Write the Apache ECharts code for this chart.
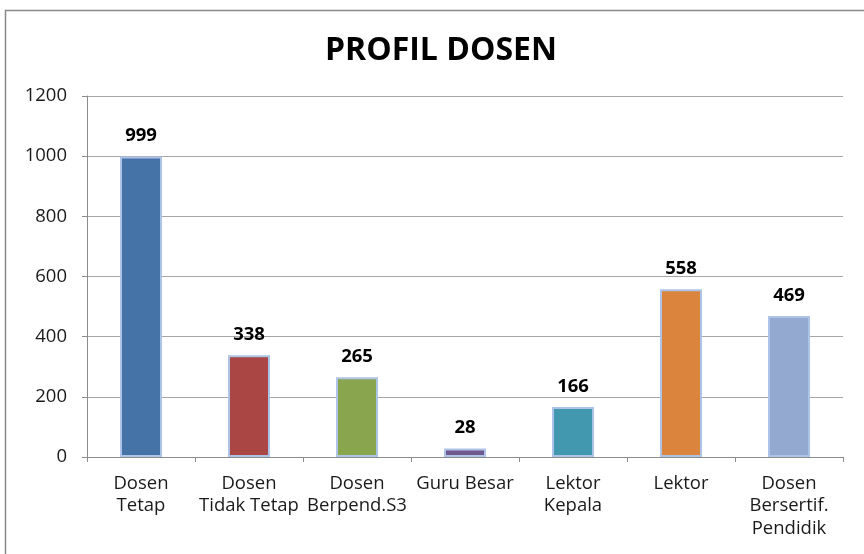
<!DOCTYPE html>
<html>
<head>
<meta charset="utf-8">
<script src="https://cdn.jsdelivr.net/npm/echarts@6/dist/echarts.min.js"></script>
<style>
html,body{margin:0;padding:0;background:#fff;}
#chart{width:864px;height:554px;}
</style>
</head>
<body>
<div id="chart"></div>
<script>
var categories = ["Dosen\nTetap", "Dosen\nTidak Tetap", "Dosen\nBerpend.S3", "Guru Besar", "Lektor\nKepala", "Lektor", "Dosen\nBersertif.\nPendidik"];
var values = [999, 338, 265, 28, 166, 558, 469];
var barColors = ["#4572A7", "#AA4643", "#89A54E", "#71588F", "#4198AF", "#DB843D", "#93A9CF"];
var yTicks = [0, 200, 400, 600, 800, 1000, 1200];

var FONT = "'Open Sans', 'Noto Sans', sans-serif";
var chart = echarts.init(document.getElementById('chart'));
chart.setOption({
  animation: false,
  backgroundColor: '#ffffff',
  title: {
    text: 'PROFIL DOSEN',
    left: 436, top: 30, textAlign: 'center',
    textStyle: { fontFamily: FONT, fontSize: 32, fontWeight: 'bold', color: '#000' }
  },
  graphic: [{
    type: 'rect', silent: true, z: -10,
    shape: { x: 5.5, y: 10.5, width: 900, height: 700 },
    style: { fill: 'none', stroke: '#8a8a8a', lineWidth: 1.5 }
  }],
  grid: { left: 87, right: 21, top: 96, bottom: 97 },
  xAxis: {
    type: 'category',
    data: categories,
    axisLine: { lineStyle: { color: '#8c8c8c', width: 1 } },
    axisTick: { show: true, length: 5, alignWithLabel: false, lineStyle: { color: '#8c8c8c' } },
    axisLabel: { interval: 0, margin: 15, fontFamily: FONT, fontSize: 18.5, lineHeight: 22.5, color: '#1a1a1a' }
  },
  yAxis: {
    type: 'value',
    min: yTicks[0], max: yTicks[yTicks.length - 1], interval: 200,
    axisLine: { show: true, lineStyle: { color: '#8c8c8c', width: 1 } },
    axisTick: { show: true, length: 5, lineStyle: { color: '#8c8c8c' } },
    splitLine: { lineStyle: { color: '#a6a6a6', width: 1 } },
    axisLabel: { margin: 20, fontFamily: FONT, fontSize: 18.5, color: '#1a1a1a',
      formatter: function (v) { return String(v); } }
  },
  series: [{
    type: 'bar',
    barWidth: 42,
    data: values.map(function (v, i) {
      return { value: v, itemStyle: { color: barColors[i] } };
    }),
    itemStyle: { borderColor: '#adc4e8', borderWidth: 2 },
    label: {
      show: true, position: 'top', distance: 11,
      fontFamily: FONT, fontSize: 18.5, fontWeight: 'bold', color: '#000'
    }
  }]
});
</script>
</body>
</html>
